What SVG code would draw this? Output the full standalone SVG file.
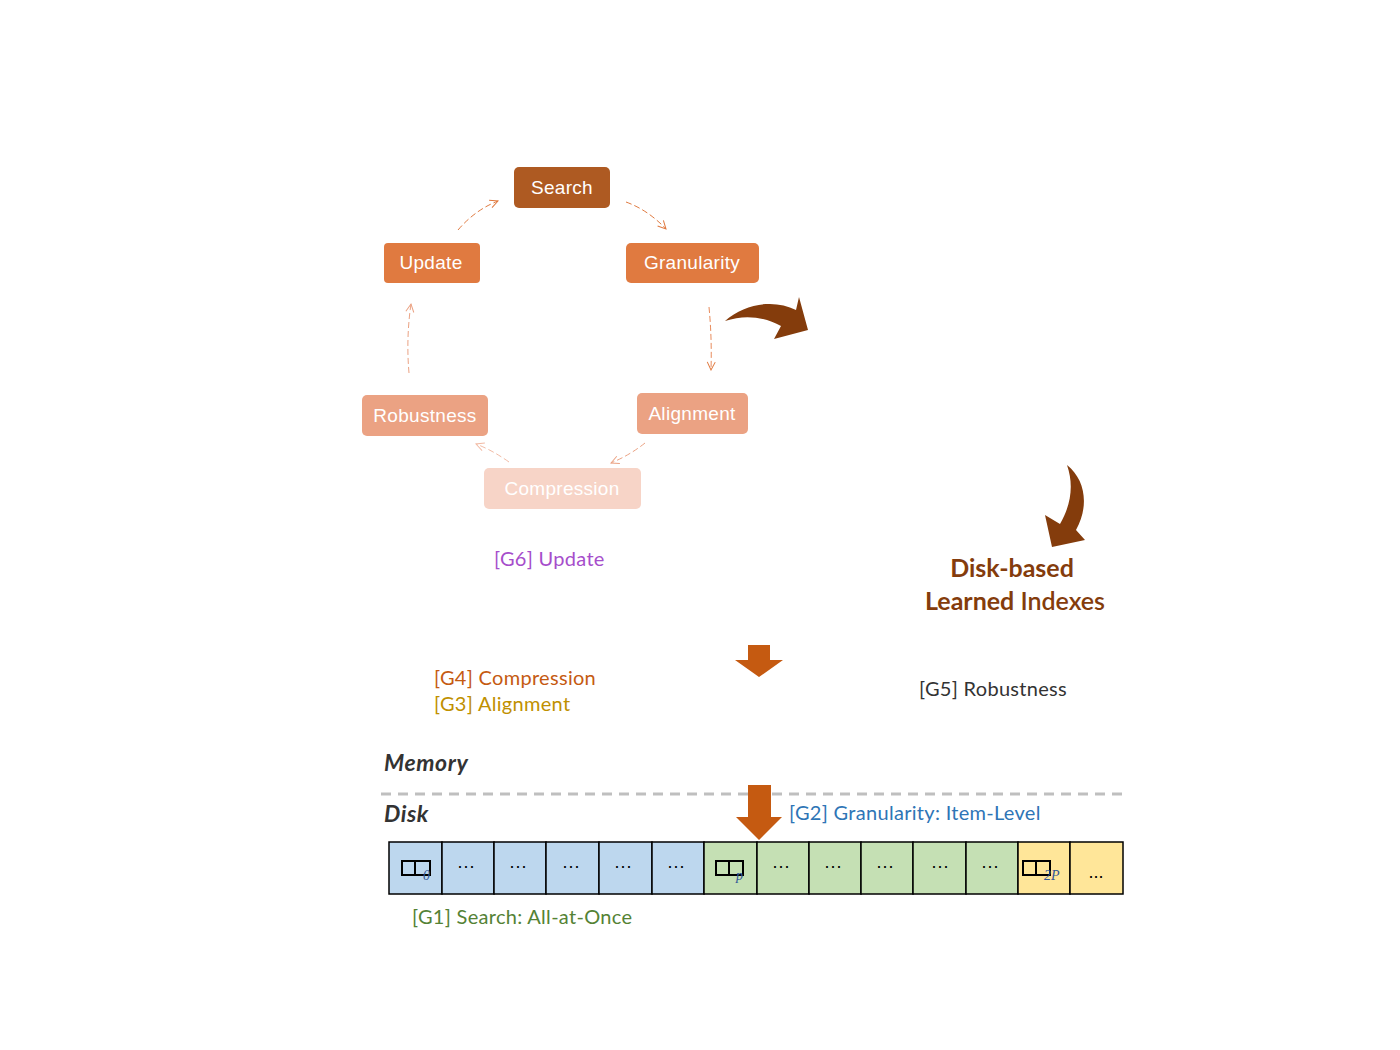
<svg xmlns="http://www.w3.org/2000/svg" width="1400" height="1050" viewBox="0 0 1400 1050">
<defs>
<style>
.nt{font-family:"Liberation Sans",Arial,sans-serif;font-size:19px;fill:#fff;text-anchor:middle;dominant-baseline:central;letter-spacing:0.3px}
.lb{font-family:Lato,"Noto Sans",sans-serif;font-size:20px;letter-spacing:0.3px}
.mem{font-family:Lato,"Noto Sans",sans-serif;font-size:23px;font-weight:bold;font-style:italic;fill:#333;letter-spacing:0.6px}
.cell{stroke:#000;stroke-width:1.5}
.dots{font-family:"Liberation Sans",Arial,sans-serif;font-size:18px;fill:#000;text-anchor:middle}
.sub{font-family:"Liberation Serif",serif;font-size:14px;font-style:italic;fill:#2F5597}
.pg{fill:none;stroke:#000;stroke-width:2}
.cn{fill:none;stroke-width:1;stroke-dasharray:6 3}
</style>
<marker id="a1" viewBox="0 0 10 10" refX="9" refY="5" markerWidth="10" markerHeight="10" markerUnits="userSpaceOnUse" orient="auto"><path d="M1 1 L9 5 L1 9" fill="none" stroke="#E07A40" stroke-width="1"/></marker>
<marker id="a2" viewBox="0 0 10 10" refX="9" refY="5" markerWidth="10" markerHeight="10" markerUnits="userSpaceOnUse" orient="auto"><path d="M1 1 L9 5 L1 9" fill="none" stroke="#EBA283" stroke-width="1"/></marker>
<marker id="a3" viewBox="0 0 10 10" refX="9" refY="5" markerWidth="10" markerHeight="10" markerUnits="userSpaceOnUse" orient="auto"><path d="M1 1 L9 5 L1 9" fill="none" stroke="#F2BBA5" stroke-width="1"/></marker>
</defs>
<rect width="1400" height="1050" fill="#fff"/>

<g id="connectors">
<path class="cn" d="M458 230 Q475 210 498 201" stroke="#E07A40" marker-end="url(#a1)"/>
<path class="cn" d="M626 202 Q648 210 666 229" stroke="#E07A40" marker-end="url(#a1)"/>
<path class="cn" d="M709 307 Q712 338 711 370" stroke="#E88A5A" marker-end="url(#a1)"/>
<path class="cn" d="M645 443 Q630 455 611 463" stroke="#EBA283" marker-end="url(#a2)"/>
<path class="cn" d="M509 462 Q492 450 476 444" stroke="#F2BBA5" marker-end="url(#a3)"/>
<path class="cn" d="M409 373 Q406 338 411 304" stroke="#EBA283" marker-end="url(#a2)"/>
</g>

<g id="node-search"><rect x="514" y="167" width="96" height="41" rx="5" fill="#AE5A22"/><text class="nt" x="562" y="187">Search</text></g>
<g id="node-update"><rect x="384" y="243" width="96" height="40" rx="4" fill="#E07A40"/><text class="nt" x="431" y="262">Update</text></g>
<g id="node-granularity"><rect x="626" y="243" width="133" height="40" rx="5" fill="#E07A40"/><text class="nt" x="692" y="262">Granularity</text></g>
<g id="node-robustness"><rect x="362" y="395" width="126" height="41" rx="5" fill="#EBA283"/><text class="nt" x="425" y="415">Robustness</text></g>
<g id="node-alignment"><rect x="637" y="393" width="111" height="41" rx="5" fill="#EBA283"/><text class="nt" x="692" y="413">Alignment</text></g>
<g id="node-compression"><rect x="484" y="468" width="157" height="41" rx="5" fill="#F7D4C7"/><text class="nt" x="562" y="488">Compression</text></g>

<g id="curved-arrows" fill="#843C0C">
<path d="M725 321 C745 303 775 299 796 310 L799 297 L808 330 L774 339 L781 326 C765 317 745 314 725 321 Z"/>
<path d="M1067 465 C1086 480 1089 507 1076 530 L1085 540 L1052 547 L1045 515 L1060 524 C1071 505 1074 485 1067 465 Z"/>
</g>

<g id="title" font-family="Lato,'Noto Sans',sans-serif" font-size="25" fill="#843C0C" font-weight="bold" text-anchor="middle">
<text x="1012" y="577">Disk-based</text>
<text x="1015" y="610">Learned <tspan font-weight="600">Indexes</tspan></text>
</g>

<g id="labels">
<text class="lb" x="494" y="566" fill="#A64DCB">[G6] Update</text>
<text class="lb" x="434" y="685" fill="#C55A11">[G4] Compression</text>
<text class="lb" x="434" y="711" fill="#BF9000">[G3] Alignment</text>
<text class="lb" x="919" y="696" fill="#333">[G5] Robustness</text>
<text class="lb" x="789" y="820" fill="#2E75B6">[G2] Granularity: Item-Level</text>
<text class="lb" x="412" y="924" fill="#548235">[G1] Search: All-at-Once</text>
<text class="mem" x="384" y="771">Memory</text>
<text class="mem" x="384" y="822">Disk</text>
</g>

<line x1="381" y1="794" x2="1124" y2="794" stroke="#BFBFBF" stroke-width="3" stroke-dasharray="10 7"/>

<g id="down-arrows" fill="#C55A11">
<path d="M748 645 H770 V660 H783 L759 677 L735 660 H748 Z"/>
<path d="M748 785 H771 V817 H782 L759 840 L736 817 H748 Z"/>
</g>

<g id="cells">
<rect class="cell" x="389" y="842" width="53" height="52" fill="#BDD7EE"/>
<rect class="cell" x="442" y="842" width="52" height="52" fill="#BDD7EE"/>
<rect class="cell" x="494" y="842" width="52" height="52" fill="#BDD7EE"/>
<rect class="cell" x="546" y="842" width="53" height="52" fill="#BDD7EE"/>
<rect class="cell" x="599" y="842" width="53" height="52" fill="#BDD7EE"/>
<rect class="cell" x="652" y="842" width="52" height="52" fill="#BDD7EE"/>
<rect class="cell" x="704" y="842" width="53" height="52" fill="#C5E0B4"/>
<rect class="cell" x="757" y="842" width="52" height="52" fill="#C5E0B4"/>
<rect class="cell" x="809" y="842" width="52" height="52" fill="#C5E0B4"/>
<rect class="cell" x="861" y="842" width="52" height="52" fill="#C5E0B4"/>
<rect class="cell" x="913" y="842" width="53" height="52" fill="#C5E0B4"/>
<rect class="cell" x="966" y="842" width="52" height="52" fill="#C5E0B4"/>
<rect class="cell" x="1018" y="842" width="52" height="52" fill="#FFE699"/>
<rect class="cell" x="1070" y="842" width="53" height="52" fill="#FFE699"/>
<text class="dots" x="466" y="872">···</text>
<text class="dots" x="518" y="872">···</text>
<text class="dots" x="571" y="872">···</text>
<text class="dots" x="623" y="872">···</text>
<text class="dots" x="676" y="872">···</text>
<text class="dots" x="781" y="872">···</text>
<text class="dots" x="833" y="872">···</text>
<text class="dots" x="885" y="872">···</text>
<text class="dots" x="940" y="872">···</text>
<text class="dots" x="990" y="872">···</text>
<text class="dots" x="1096" y="878" font-size="15">...</text>
<rect class="pg" x="402" y="861" width="13" height="14"/><rect class="pg" x="415" y="861" width="15" height="14"/>
<text class="sub" x="423" y="880">0</text>
<rect class="pg" x="716" y="861" width="13" height="14"/><rect class="pg" x="729" y="861" width="14" height="14"/>
<text class="sub" x="736" y="880">p</text>
<rect class="pg" x="1023" y="861" width="13" height="14"/><rect class="pg" x="1036" y="861" width="14" height="14"/>
<text class="sub" x="1044" y="880">2P</text>
</g>
</svg>
